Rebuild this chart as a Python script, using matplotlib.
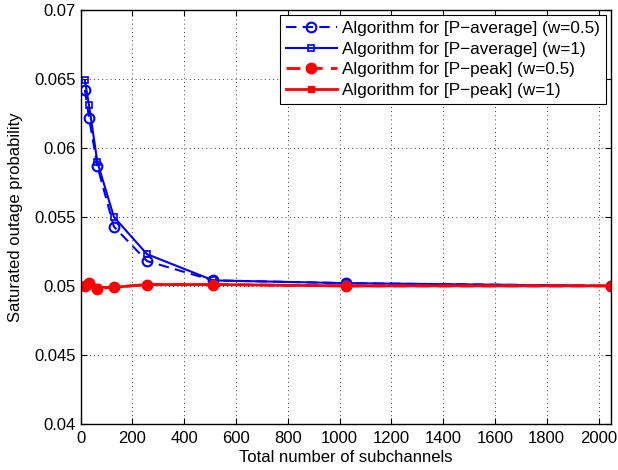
import matplotlib
matplotlib.use('Agg')
import matplotlib.pyplot as plt
from matplotlib import rcParams

rcParams['font.family'] = 'sans-serif'
rcParams['font.sans-serif'] = ['Liberation Sans', 'DejaVu Sans']
rcParams['font.size'] = 12

# Daten
subchannels = [16, 32, 64, 128, 256, 512, 1024, 2048]
avg_w05 = [0.0642, 0.0622, 0.0587, 0.0543, 0.0518, 0.0504, 0.0502, 0.0500]
avg_w1 = [0.0649, 0.0631, 0.0590, 0.0550, 0.0523, 0.0504, 0.0502, 0.0500]
peak_w05 = [0.0500, 0.0502, 0.0498, 0.0499, 0.0501, 0.0501, 0.0500, 0.0500]
peak_w1 = [0.0500, 0.0501, 0.0499, 0.0499, 0.0501, 0.0501, 0.0500, 0.0500]

fig = plt.figure(figsize=(6.18, 4.70), dpi=100)
ax = fig.add_axes([0.1306, 0.098, 0.858, 0.881])

ax.plot(subchannels, avg_w05, '--o', color='blue', lw=1.5, ms=7, mfc='none', mew=1.5,
        dashes=(5, 3), label='Algorithm for [P\u2212average] (w=0.5)')
ax.plot(subchannels, avg_w1, '-s', color='blue', lw=1.5, ms=5, mfc='none', mew=1.2,
        label='Algorithm for [P\u2212average] (w=1)')
ax.plot(subchannels, peak_w05, '--o', color='red', lw=2, ms=7.5, mfc='red',
        dashes=(5, 3), label='Algorithm for [P\u2212peak] (w=0.5)')
ax.plot(subchannels, peak_w1, '-s', color='red', lw=2, ms=5, mfc='red',
        label='Algorithm for [P\u2212peak] (w=1)')

ax.set_xlim(0, 2048)
ax.set_ylim(0.04, 0.07)
ax.set_xticks(range(0, 2001, 200))
ax.set_yticks([0.04, 0.045, 0.05, 0.055, 0.06, 0.065, 0.07])
ax.set_yticklabels(['0.04', '0.045', '0.05', '0.055', '0.06', '0.065', '0.07'])
ax.tick_params(direction='in', top=True, right=True, length=4, labelsize=12)
ax.tick_params(axis='x', pad=5)
ax.grid(True, linestyle=(0, (1, 4)), color='black', lw=0.6)
for s in ax.spines.values():
    s.set_linewidth(1.0)

ax.set_xlabel('Total number of subchannels', fontsize=12, labelpad=3)
ax.set_ylabel('Saturated outage probability', fontsize=12, labelpad=8)

leg = ax.legend(loc='upper right', fontsize=12.3, fancybox=False, framealpha=1,
                edgecolor='black', handlelength=3.0, borderpad=0.35,
                labelspacing=0.33, handletextpad=0.3, borderaxespad=0.3)
leg.get_frame().set_linewidth(0.8)

fig.savefig('out.png', dpi=100)
